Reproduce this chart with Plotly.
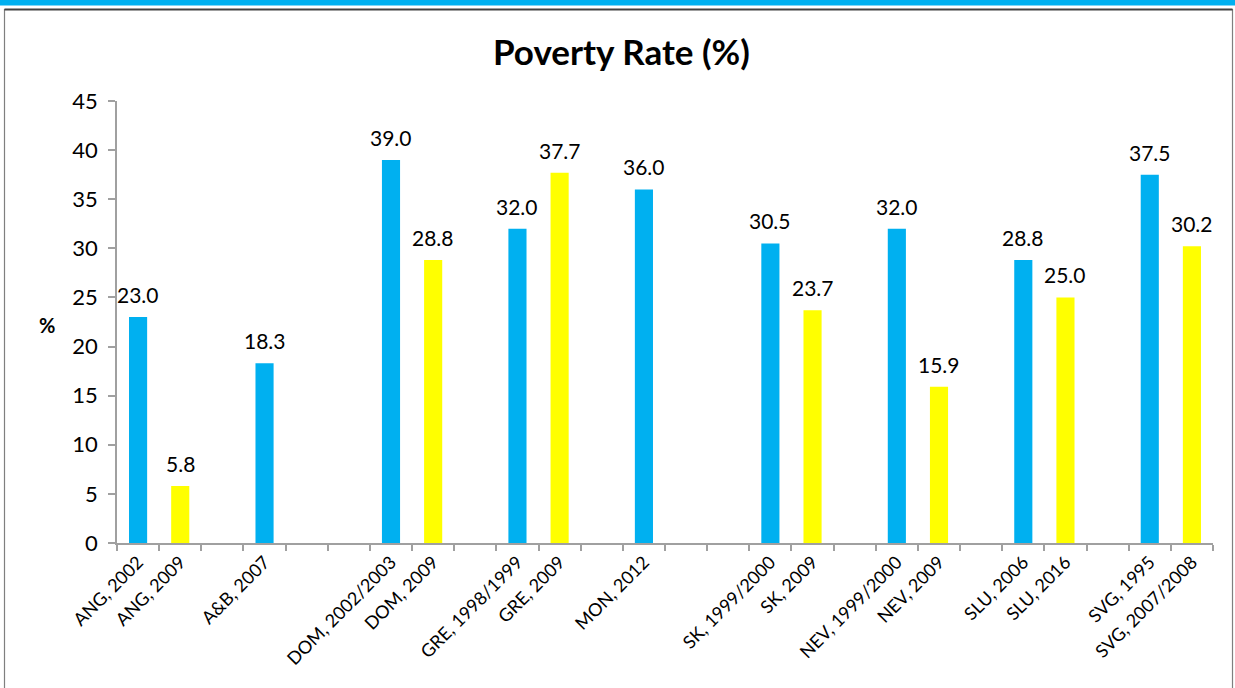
import plotly.graph_objects as go

# ---- data ----
labels = ["ANG, 2002", "ANG, 2009", "", "A&B, 2007", "", "",
          "DOM, 2002/2003", "DOM, 2009", "", "GRE, 1998/1999", "GRE, 2009", "",
          "MON, 2012", "", "", "SK, 1999/2000", "SK, 2009", "",
          "NEV, 1999/2000", "NEV, 2009", "", "SLU, 2006", "SLU, 2016", "",
          "SVG, 1995", "SVG, 2007/2008"]
first_survey = [23.0, None, None, 18.3, None, None,
                39.0, None, None, 32.0, None, None,
                36.0, None, None, 30.5, None, None,
                32.0, None, None, 28.8, None, None,
                37.5, None]
second_survey = [None, 5.8, None, None, None, None,
                 None, 28.8, None, None, 37.7, None,
                 None, None, None, None, 23.7, None,
                 None, 15.9, None, None, 25.0, None,
                 None, 30.2]
y_ticks = [0, 5, 10, 15, 20, 25, 30, 35, 40, 45]

# ---- layout geometry (pixels) ----
W, H = 1235, 688
L, R, T, B = 117, 1213, 101, 543


def px(x):
    return (x - L) / (R - L)


def py(y):
    return (B - y) / (B - T)


xs = list(range(len(labels)))
FONT = "Lato"

fig = go.Figure()
fig.add_trace(go.Bar(x=xs, y=first_survey, marker_color="#00B0F0", width=0.43,
                     marker_line_width=0, showlegend=False))
fig.add_trace(go.Bar(x=xs, y=second_survey, marker_color="#FFFF00", width=0.43,
                     marker_line_width=0, showlegend=False))

annotations = []
for series in (first_survey, second_survey):
    for i, v in enumerate(series):
        if v is not None:
            annotations.append(dict(x=i, y=v, xref="x", yref="y", text=f"{v:.1f}",
                                    showarrow=False, yanchor="bottom", yshift=8,
                                    font=dict(family=FONT, size=21, color="black")))
annotations.append(dict(x=px(47), y=py(325), xref="paper", yref="paper", text="<b>%</b>",
                        showarrow=False, xanchor="center", yanchor="middle",
                        font=dict(family=FONT, size=20, color="black")))
annotations.append(dict(x=px(621), y=py(51), xref="paper", yref="paper",
                        text="<b>Poverty Rate (%)</b>", showarrow=False,
                        xanchor="center", yanchor="middle",
                        font=dict(family=FONT, size=35, color="black")))

shapes = [
    dict(type="rect", xref="paper", yref="paper", x0=px(0), x1=px(1235), y0=py(0), y1=py(5.5),
         fillcolor="#00B0F0", line_width=0, layer="below"),
    dict(type="rect", xref="paper", yref="paper", x0=px(4.5), x1=px(1232.5), y0=py(9.5), y1=py(700),
         fillcolor="rgba(0,0,0,0)", line=dict(color="#7f7f7f", width=1.2), layer="below"),
    dict(type="line", xref="paper", yref="paper", x0=px(4.5), x1=px(1232.5), y0=py(9.5), y1=py(9.5),
         line=dict(color="#404040", width=2)),
]

fig.update_layout(
    width=W, height=H,
    margin=dict(l=L, r=W - R, t=T, b=H - B, pad=0),
    paper_bgcolor="white", plot_bgcolor="white",
    barmode="overlay",
    annotations=annotations, shapes=shapes,
    font=dict(family=FONT, color="black"),
)
fig.update_xaxes(
    range=[-0.5, len(labels) - 0.5],
    tickmode="array", tickvals=xs, ticktext=labels, tickangle=-45,
    ticks="", tickfont=dict(family=FONT, size=18, color="black"),
    showline=True, linecolor="#a0a0a0", linewidth=1.5, showgrid=False, zeroline=False,
    minor=dict(tickmode="linear", tick0=-0.5, dtick=1, ticks="outside", ticklen=6,
               tickcolor="#a0a0a0", tickwidth=1.5, showgrid=False),
)
fig.update_yaxes(
    range=[0, 45], tickmode="array", tickvals=y_ticks,
    ticks="outside", ticklen=7, tickcolor="#a0a0a0", tickwidth=1.5,
    tickfont=dict(family=FONT, size=22, color="black"), ticklabelstandoff=6,
    showline=True, linecolor="#a0a0a0", linewidth=1.5, showgrid=False, zeroline=False,
)

fig.write_html("out.html", config={"displayModeBar": False},
               post_script="document.body.style.margin='0';document.body.style.overflow='hidden';")
